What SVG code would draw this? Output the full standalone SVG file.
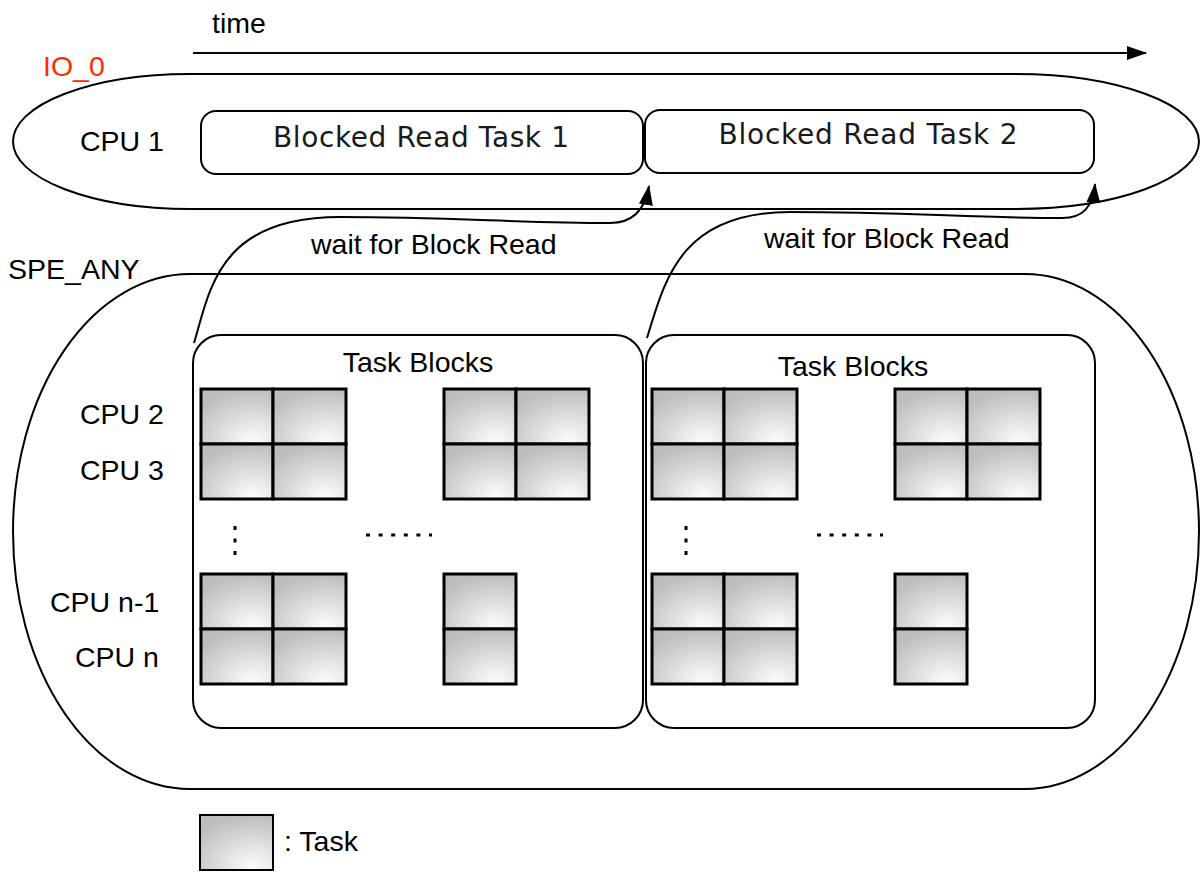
<svg xmlns="http://www.w3.org/2000/svg" width="1202" height="872" viewBox="0 0 1202 872">
<defs>
<radialGradient id="tg" cx="0.72" cy="0.95" r="0.95" fx="0.72" fy="0.95">
<stop offset="0" stop-color="#fcfcfc"/>
<stop offset="1" stop-color="#bdbdbd"/>
</radialGradient>
<marker id="ah" viewBox="0 0 20 14" refX="19" refY="7" markerWidth="20" markerHeight="14" markerUnits="userSpaceOnUse" orient="auto">
<path d="M0,0 L20,7 L0,14 Z" fill="#000"/>
</marker>
</defs>
<style>
.ln{fill:none;stroke:#000;stroke-width:2}
.box{fill:#fff;stroke:#000;stroke-width:2}
.cell{fill:url(#tg);stroke:#000;stroke-width:3}
.t{font-family:"Liberation Sans",Arial,sans-serif;font-size:28.5px;fill:#000}
.tb{font-family:"DejaVu Sans","Liberation Sans",sans-serif;font-size:28px;fill:#1a1a1a}
.dots{fill:none;stroke:#000;stroke-width:3}
</style>
<rect width="1202" height="872" fill="#fff"/>

<g id="time-axis">
<line x1="193" y1="53" x2="1146" y2="53" class="ln" marker-end="url(#ah)"/>
<text x="212" y="33" class="t">time</text>
</g>

<g id="io0">
<path class="ln" d="M190,74 L1015,74 A184,67.5 0 0 1 1015,209 L190,209 A177,67.5 0 0 1 190,74 Z"/>
<text x="43" y="76" class="t" style="fill:#ff2a00">IO_0</text>
<text x="80" y="151" class="t">CPU 1</text>
</g>

<g id="blocked-read-1">
<rect x="201" y="111" width="442" height="63" rx="15" class="box"/>
<text x="421" y="147" class="tb" text-anchor="middle" textLength="296" lengthAdjust="spacing">Blocked Read Task 1</text>
</g>

<g id="blocked-read-2">
<rect x="645" y="110" width="449" height="63" rx="15" class="box"/>
<text x="868" y="144" class="tb" text-anchor="middle" textLength="299" lengthAdjust="spacing">Blocked Read Task 2</text>
</g>

<g id="spe-any">
<path class="ln" d="M190,274 L1025,274 A174,257.5 0 0 1 1025,789 L190,789 A177,257.5 0 0 1 190,274 Z"/>
<text x="8" y="279" class="t">SPE_ANY</text>
<text x="80" y="424" class="t">CPU 2</text>
<text x="80" y="480" class="t">CPU 3</text>
<text x="50" y="612" class="t">CPU n-1</text>
<text x="75" y="667" class="t">CPU n</text>
</g>

<g id="task-blocks-1">
<rect x="193" y="335" width="450" height="393" rx="28" class="box"/>
<text x="418" y="372" class="t" text-anchor="middle">Task Blocks</text>
<rect x="201" y="389" width="72" height="55" class="cell"/>
<rect x="273" y="389" width="73" height="55" class="cell"/>
<rect x="201" y="444" width="72" height="55" class="cell"/>
<rect x="273" y="444" width="73" height="55" class="cell"/>
<rect x="444" y="389" width="72" height="55" class="cell"/>
<rect x="516" y="389" width="73" height="55" class="cell"/>
<rect x="444" y="444" width="72" height="55" class="cell"/>
<rect x="516" y="444" width="73" height="55" class="cell"/>
<rect x="201" y="574" width="72" height="55" class="cell"/>
<rect x="273" y="574" width="73" height="55" class="cell"/>
<rect x="201" y="629" width="72" height="55" class="cell"/>
<rect x="273" y="629" width="73" height="55" class="cell"/>
<rect x="444" y="574" width="72" height="55" class="cell"/>
<rect x="444" y="629" width="72" height="55" class="cell"/>
<line x1="235" y1="526" x2="235" y2="555" class="dots" stroke-dasharray="4,8.5"/>
<line x1="366" y1="535" x2="432" y2="535" class="dots" stroke-dasharray="4,8.6"/>
</g>

<g id="task-blocks-2">
<rect x="646" y="335" width="449" height="393" rx="28" class="box"/>
<text x="853" y="376" class="t" text-anchor="middle">Task Blocks</text>
<rect x="652" y="389" width="72" height="55" class="cell"/>
<rect x="724" y="389" width="73" height="55" class="cell"/>
<rect x="652" y="444" width="72" height="55" class="cell"/>
<rect x="724" y="444" width="73" height="55" class="cell"/>
<rect x="895" y="389" width="72" height="55" class="cell"/>
<rect x="967" y="389" width="73" height="55" class="cell"/>
<rect x="895" y="444" width="72" height="55" class="cell"/>
<rect x="967" y="444" width="73" height="55" class="cell"/>
<rect x="652" y="574" width="72" height="55" class="cell"/>
<rect x="724" y="574" width="73" height="55" class="cell"/>
<rect x="652" y="629" width="72" height="55" class="cell"/>
<rect x="724" y="629" width="73" height="55" class="cell"/>
<rect x="895" y="574" width="72" height="55" class="cell"/>
<rect x="895" y="629" width="72" height="55" class="cell"/>
<line x1="686" y1="526" x2="686" y2="555" class="dots" stroke-dasharray="4,8.5"/>
<line x1="817" y1="535" x2="883" y2="535" class="dots" stroke-dasharray="4,8.6"/>
</g>

<g id="connectors">
<path class="ln" d="M194,343 C210,290 218,217 340,217 C450,217 520,223 610,223 C633,223 645,210 649,186" marker-end="url(#ah)"/>
<text x="311" y="254" class="t">wait for Block Read</text>
<path class="ln" d="M647,338 C665,280 680,212 790,212 C900,212 980,218 1062,218 C1083,218 1093,207 1095,184" marker-end="url(#ah)"/>
<text x="764" y="248" class="t">wait for Block Read</text>
</g>

<g id="legend">
<rect x="200" y="815" width="73" height="55" class="cell" style="stroke-width:2"/>
<text x="284" y="851" class="t">: Task</text>
</g>
</svg>
